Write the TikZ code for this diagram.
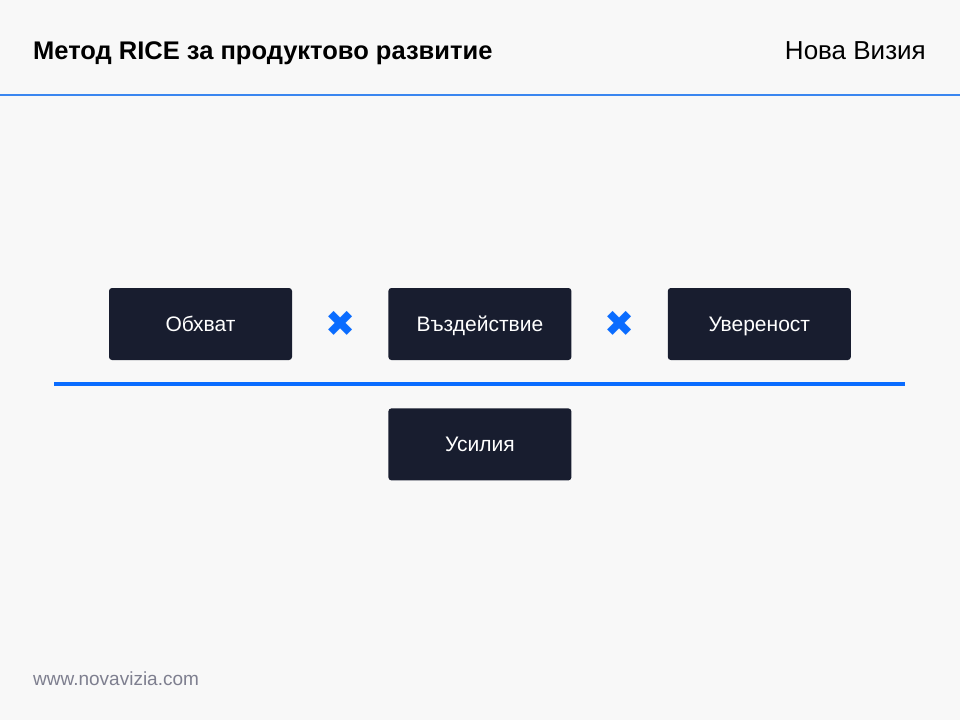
\documentclass[tikz,border=0pt]{standalone}
\usepackage{fontspec}
\setmainfont{Liberation Sans}
\newfontfamily\symfont{DejaVu Sans}
\usetikzlibrary{positioning,calc}
\definecolor{bgpage}{HTML}{F8F8F8}
\definecolor{boxnavy}{HTML}{181D2F}
\definecolor{riceblue}{HTML}{0A6CFF}
\definecolor{headblue}{HTML}{3A86F0}
\definecolor{footgray}{HTML}{7E7F8F}
\begin{document}
\begin{tikzpicture}[x=1pt, y=-1pt, node distance=96pt]
		% Node style
		\tikzstyle{factor} = [rectangle, rounded corners=3pt, fill=boxnavy, text=white, minimum width=183pt, minimum height=72pt, inner sep=0pt, text height=16pt, text depth=1pt, font=\fontsize{21}{25}\selectfont]
		\tikzstyle{cross} = [text=riceblue, inner sep=0pt, font=\symfont\fontsize{36}{36}\selectfont]
		
		% Page
		\fill[bgpage] (0,0) rectangle (960,720);
		\useasboundingbox (0,0) rectangle (960,720);
		\node[anchor=base west, inner sep=0pt, font=\bfseries\fontsize{25.5}{30}\selectfont] (title) at (33,59) {Метод RICE за продуктово развитие};
		\node[anchor=base east, inner sep=0pt, font=\fontsize{26}{30}\selectfont] (brand) at (926,59) {Нова Визия};
		\draw[headblue, line width=2pt] (0,95) -- (960,95);
		\node[anchor=base west, inner sep=0pt, text=footgray, font=\fontsize{19}{22}\selectfont] (site) at (33,685) {www.novavizia.com};
		
		% Nodes
		\node[factor] (reach) at (200.5,324) {Обхват};
		\node[factor, right=of reach] (impact) {Въздействие};
		\node[factor, right=of impact] (confidence) {Увереност};
		\node[factor, below=48pt of impact] (effort) {Усилия};
		
		\node[cross] (times1) at ($(reach.east)!0.5!(impact.west)$) {✖};
		\node[cross] (times2) at ($(impact.east)!0.5!(confidence.west)$) {✖};
		
		% Fraction line
		\coordinate (barleft) at (54,384);
		\coordinate (barright) at (905,384);
		\draw[riceblue, line width=4pt] (barleft) -- (barright);
	\end{tikzpicture}
\end{document}
